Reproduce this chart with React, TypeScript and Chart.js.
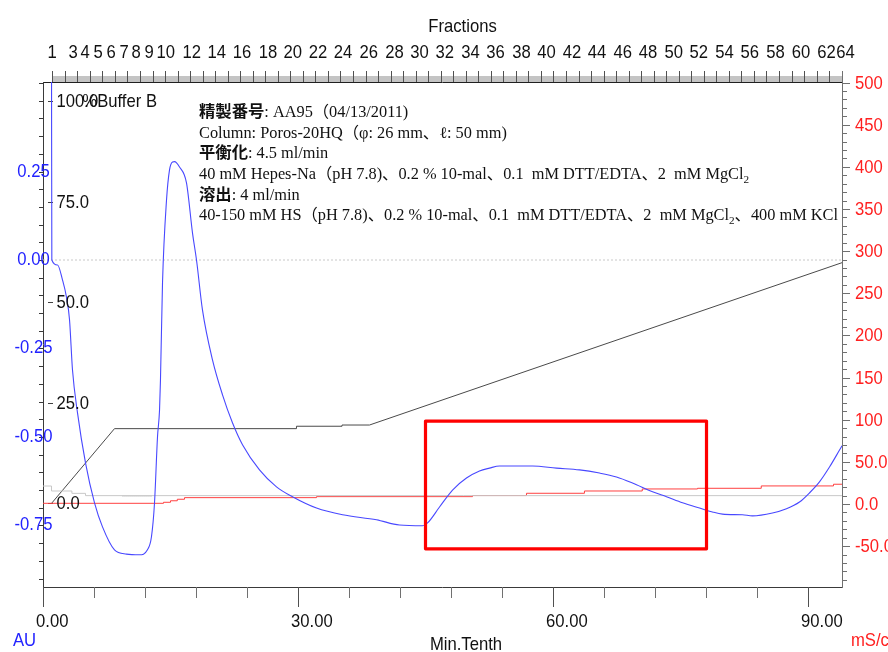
import React, { useEffect, useRef } from "react";
import { Chart, registerables } from "chart.js";
Chart.register(...registerables);

// ---------- data ----------
const X_MAX = 94.0; // Min.Tenth

// UV absorbance trace (AU)
const uvTime = [1.0, 1.04, 1.71, 2.29, 2.76, 3.12, 3.47, 4.06, 5.0, 6.06, 7.0, 8.41, 9.82, 11.35, 12.29, 12.76, 13.12, 13.47, 13.71, 13.82, 14.06, 14.53, 14.88, 15.24, 15.47, 16.06, 16.88, 17.59, 18.06, 18.76, 19.94, 21.12, 22.29, 23.47, 25.47, 27.47, 29.35, 32.18, 35.24, 39.24, 41.94, 44.65, 45.24, 46.65, 48.18, 49.82, 51.35, 52.53, 53.71, 57.59, 60.41, 63.12, 65.47, 67.47, 69.35, 71.71, 73.35, 75.24, 77.24, 78.76, 79.94, 82.29, 83.47, 85.82, 87.47, 89.0, 90.18, 91.35, 92.53, 93.71, 94.0];
const uvAU = [0.6, 0, -0.014, -0.056, -0.105, -0.169, -0.311, -0.432, -0.573, -0.686, -0.754, -0.819, -0.831, -0.833, -0.819, -0.782, -0.686, -0.5, -0.424, -0.339, -0.065, 0.169, 0.254, 0.277, 0.278, 0.263, 0.218, 0.076, 0, -0.141, -0.282, -0.381, -0.46, -0.522, -0.593, -0.641, -0.669, -0.701, -0.72, -0.734, -0.749, -0.751, -0.743, -0.698, -0.65, -0.616, -0.596, -0.588, -0.582, -0.582, -0.588, -0.593, -0.602, -0.613, -0.63, -0.655, -0.669, -0.686, -0.701, -0.712, -0.718, -0.72, -0.723, -0.715, -0.703, -0.684, -0.658, -0.627, -0.585, -0.537, -0.525];

// %Buffer B
const bufferTime = [1.0, 8.41, 29.82, 29.82, 35.18, 35.18, 38.41, 94.0];
const bufferPct = [0, 18.6, 18.6, 19.2, 19.2, 19.5, 19.5, 59.9];

// Conductivity (mS/cm), step-wise
const condTime = [0, 14.18, 15.0, 15.8, 16.65, 32.18, 50.53, 56.88, 63.7, 70.5, 77.0, 84.5, 93.0, 94.0];
const condValue = [0.8, 2.0, 3.8, 5.6, 7.5, 8.7, 10.0, 12.7, 15.4, 17.8, 18.6, 21.4, 23.4, 23.4];

// Pressure-like grey trace (right axis units), step-wise
const pressTime = [0, 1.0, 3.4, 5.0, 94.0];
const pressValue = [21.3, 15.4, 12.6, 9.9, 9.9];
const pressDarkTime = [9.35, 12.88];
const pressDarkValue = [9.5, 9.5];

// Highlight box (time, AU)
const boxTime = [45.0, 78.06];
const boxAU = [-0.455, -0.816];

// Axis tick labels
const xTickLabels = [0, 30, 60, 90];
const auTickLabels = [0.25, 0.0, -0.25, -0.5, -0.75];
const pctTickLabels = [100, 75, 50, 25, 0];
const condTickLabels = [500, 450, 400, 350, 300, 250, 200, 150, 100, 50, 0, -50];

// Fractions (label, start time of label)
const fractionNumbers = [1, 3, 4, 5, 6, 7, 8, 9, 10, 12, 14, 16, 18, 20, 22, 24, 26, 28, 30, 32, 34, 36, 38, 40, 42, 44, 46, 48, 50, 52, 54, 56, 58, 60, 62, 64];
const fractionTimes = [0.53, 3.0, 4.41, 5.94, 7.47, 9.0, 10.41, 11.94, 13.35, 16.41, 19.35, 22.33, 25.39, 28.29, 31.27, 34.21, 37.24, 40.26, 43.2, 46.18, 49.2, 52.14, 55.2, 58.14, 61.16, 64.1, 67.12, 70.1, 73.12, 76.06, 79.08, 82.06, 85.08, 88.09, 91.08, 93.32];
const FR_TICK_START = 1.094;
const FR_TICK_END = 93.96;
const FR_TICK_COUNT = 64;

// Annotation
type Seg = [string, "r" | "j" | "s"];
const annotation: Seg[][] = [
  [["精製番号", "j"], [": AA95（04/13/2011)", "r"]],
  [["Column: Poros-20HQ（φ: 26 mm、ℓ: 50 mm)", "r"]],
  [["平衡化", "j"], [": 4.5 ml/min", "r"]],
  [["40 mM Hepes-Na（pH 7.8)、0.2 % 10-mal、0.1  mM DTT/EDTA、2  mM MgCl", "r"], ["2", "s"]],
  [["溶出", "j"], [": 4 ml/min", "r"]],
  [["40-150 mM HS（pH 7.8)、0.2 % 10-mal、0.1  mM DTT/EDTA、2  mM MgCl", "r"], ["2", "s"], ["、400 mM KCl", "r"]],
];

// ---------- helpers ----------
const AX_FONT = '18.5px "Liberation Sans", Arial, sans-serif';
const AX_SX = 0.9;
const BLUE_TXT = "#2222ff";
const RED_TXT = "#ff2020";

function drawText(ctx: CanvasRenderingContext2D, s: string, x: number, y: number, color: string, align = "left", font = AX_FONT, sx = AX_SX) {
  ctx.save();
  ctx.font = font;
  ctx.fillStyle = color;
  ctx.textBaseline = "alphabetic";
  ctx.textAlign = "left";
  const w = ctx.measureText(s).width * sx;
  const x0 = align === "center" ? x - w / 2 : align === "right" ? x - w : x;
  ctx.translate(x0, y);
  ctx.scale(sx, 1);
  ctx.fillText(s, 0, 0);
  ctx.restore();
}

function line(ctx: CanvasRenderingContext2D, x1: number, y1: number, x2: number, y2: number, color: string, w = 1) {
  ctx.save();
  ctx.strokeStyle = color;
  ctx.lineWidth = w;
  ctx.beginPath();
  ctx.moveTo(x1, y1);
  ctx.lineTo(x2, y2);
  ctx.stroke();
  ctx.restore();
}

const segFont = (k: string) =>
  k === "j"
    ? 'bold 16px "Noto Sans CJK JP", sans-serif'
    : k === "s"
    ? '11px "Liberation Serif", serif'
    : '16px "Liberation Serif", "Noto Sans CJK JP", serif';

const decor = {
  id: "decor",
  beforeDraw(chart: any) {
    const ctx = chart.ctx;
    ctx.save();
    ctx.fillStyle = "#ffffff";
    ctx.fillRect(0, 0, chart.width, chart.height);
    ctx.restore();
  },
  beforeDatasetsDraw(chart: any) {
    const ctx: CanvasRenderingContext2D = chart.ctx;
    const { left, right, top, bottom } = chart.chartArea;
    const x = chart.scales.x, au = chart.scales.yAU, pct = chart.scales.yPct, cond = chart.scales.yCond;
    const axisC = "#3a3a3a";

    // Fraction band
    const bandL = x.getPixelForValue(FR_TICK_START);
    ctx.save();
    ctx.fillStyle = "#c4c4c4";
    ctx.fillRect(bandL, 76, right - bandL, top - 76);
    ctx.restore();
    for (let i = 0; i < FR_TICK_COUNT; i++) {
      const t = FR_TICK_START + (i * (FR_TICK_END - FR_TICK_START)) / (FR_TICK_COUNT - 1);
      const px = Math.round(x.getPixelForValue(t)) + 0.5;
      line(ctx, px, 71, px, top, "#505050");
    }
    // plot top border
    line(ctx, left, top + 0.5, right, top + 0.5, "#202020");

    // Left axis
    line(ctx, left + 0.5, top, left + 0.5, bottom + 20, axisC);
    for (let k = -18; k <= 10; k++) {
      const py = Math.round(au.getPixelForValue(k * 0.05)) + 0.5;
      line(ctx, left - 4, py, left, py, axisC);
    }
    // Bottom axis
    line(ctx, left, bottom + 0.5, right, bottom + 0.5, axisC);
    for (let v = 0; v <= 90; v += 6) {
      const px = Math.round(x.getPixelForValue(v)) + 0.5;
      const len = v % 30 === 0 ? 20 : 11;
      line(ctx, px, bottom, px, bottom + len, v % 30 === 0 ? "#505050" : "#707070");
    }
    // Right axis
    const rc = "#707070";
    line(ctx, right + 0.5, 71, right + 0.5, bottom + 1, rc);
    for (let v = -90; v <= 500; v += 10) {
      const py = Math.round(cond.getPixelForValue(v)) + 0.5;
      const len = v % 50 === 0 ? 8 : 5;
      line(ctx, right, py, right + len, py, rc);
    }
    // %B small ticks
    pctTickLabels.forEach((v) => {
      const py = Math.round(pct.getPixelForValue(v)) + 0.5;
      line(ctx, left + 5, py, left + 10, py, "#404040");
    });
  },
  afterDatasetsDraw(chart: any) {
    const ctx: CanvasRenderingContext2D = chart.ctx;
    const { left } = chart.chartArea;
    const x = chart.scales.x, au = chart.scales.yAU, pct = chart.scales.yPct, cond = chart.scales.yCond;

    // highlight box
    ctx.save();
    ctx.strokeStyle = "#ff0000";
    ctx.lineWidth = 3.2;
    ctx.lineJoin = "round";
    const bx0 = x.getPixelForValue(boxTime[0]), bx1 = x.getPixelForValue(boxTime[1]);
    const by0 = au.getPixelForValue(boxAU[0]), by1 = au.getPixelForValue(boxAU[1]);
    ctx.strokeRect(bx0, by0, bx1 - bx0, by1 - by0);
    ctx.restore();

    // Left AU labels
    auTickLabels.forEach((v) => {
      drawText(ctx, v.toFixed(2), 33.5, au.getPixelForValue(v) + 5, BLUE_TXT, "center");
    });
    // %B labels
    pctTickLabels.forEach((v) => {
      drawText(ctx, v.toFixed(1), left + 13.5, pct.getPixelForValue(v) + 6, "#111111", "left");
    });
    drawText(ctx, "%Buffer B", 157, pct.getPixelForValue(100) + 6, "#111111", "right");

    // Right labels
    condTickLabels.forEach((v) => {
      const s = Math.abs(v) >= 100 ? String(v) : v.toFixed(1);
      drawText(ctx, s, 855, cond.getPixelForValue(v) + 6, RED_TXT, "left");
    });

    // X labels
    xTickLabels.forEach((v) => {
      drawText(ctx, v.toFixed(2), x.getPixelForValue(v) - 7, 626.5, "#111111", "left");
    });
    drawText(ctx, "AU", 13, 646, BLUE_TXT, "left");
    drawText(ctx, "Min.Tenth", 466, 650, "#111111", "center");
    drawText(ctx, "mS/cm", 851, 646, RED_TXT, "left");

    // Fractions
    drawText(ctx, "Fractions", 462.5, 32, "#111111", "center");
    fractionNumbers.forEach((f, i) => {
      drawText(ctx, String(f), x.getPixelForValue(fractionTimes[i]), 58, "#111111", "left");
    });

    // Annotation
    ctx.save();
    const measure = (segs: Seg[]) =>
      segs.reduce((acc, [s, k]) => {
        ctx.font = segFont(k);
        return acc + ctx.measureText(s).width;
      }, 0);
    const fitW = measure(annotation[5]);
    const sx = 639 / fitW;
    const baseY = 117.1;
    const step = 20.6;
    annotation.forEach((segs, li) => {
      let cx = 199;
      const by = baseY + li * step;
      segs.forEach(([s, k]) => {
        ctx.font = segFont(k);
        const w = ctx.measureText(s).width * sx;
        ctx.save();
        ctx.fillStyle = "#111111";
        ctx.textBaseline = "alphabetic";
        ctx.translate(cx, k === "s" ? by + 4 : by);
        ctx.scale(sx, 1);
        ctx.fillText(s, 0, 0);
        ctx.restore();
        cx += w;
      });
    });
    ctx.restore();
  },
};

const zip = (xs: number[], ys: number[]) => xs.map((t, i) => ({ x: t, y: ys[i] }));

export default function App() {
  const ref = useRef<HTMLCanvasElement>(null);
  useEffect(() => {
    const canvas = ref.current!;
    const chart = new Chart(canvas, {
      type: "line",
      data: {
        datasets: [
          {
            label: "UV",
            data: zip(uvTime, uvAU),
            yAxisID: "yAU",
            borderColor: "#4848ff",
            borderWidth: 1.1,
            pointRadius: 0,
            cubicInterpolationMode: "monotone",
            order: 0,
          },
          {
            label: "Pressure",
            data: zip(pressTime, pressValue),
            yAxisID: "yCond",
            borderColor: "#c8c8c8",
            borderWidth: 1,
            pointRadius: 0,
            stepped: true,
            order: 1,
          },
          {
            label: "PressureDark",
            data: zip(pressDarkTime, pressDarkValue),
            yAxisID: "yCond",
            borderColor: "#9a9a9a",
            borderWidth: 1,
            borderDash: [1, 1],
            pointRadius: 0,
            order: 1,
          },
          {
            label: "Conductivity",
            data: zip(condTime, condValue),
            yAxisID: "yCond",
            borderColor: "#ff4040",
            borderWidth: 1,
            pointRadius: 0,
            stepped: true,
            order: 2,
          },
          {
            label: "%B",
            data: zip(bufferTime, bufferPct),
            yAxisID: "yPct",
            borderColor: "#4a4a4a",
            borderWidth: 1,
            pointRadius: 0,
            order: 3,
          },
          {
            label: "zero",
            data: zip([0, X_MAX], [0, 0]),
            yAxisID: "yAU",
            borderColor: "#c8c8c8",
            borderWidth: 1,
            borderDash: [2, 2],
            pointRadius: 0,
            order: 4,
          },
        ],
      },
      options: {
        animation: false,
        responsive: false,
        devicePixelRatio: 1,
        parsing: true,
        layout: { padding: { left: 43, right: 46, top: 82, bottom: 65 } },
        plugins: { legend: { display: false }, tooltip: { enabled: false } },
        scales: {
          x: { type: "linear", min: 0, max: X_MAX, display: false },
          yAU: { type: "linear", position: "left", min: -0.924, max: 0.503, display: false },
          yPct: { type: "linear", position: "left", min: -20.8, max: 104.85, display: false },
          yCond: { type: "linear", position: "right", min: -98.5, max: 500.6, display: false },
        },
      },
      plugins: [decor as any],
    } as any);
    return () => chart.destroy();
  }, []);
  return (
    <div style={{ position: "absolute", left: 0, top: 0, width: 888, height: 652, background: "#fff" }}>
      <canvas ref={ref} width={888} height={652} style={{ display: "block" }} />
    </div>
  );
}
